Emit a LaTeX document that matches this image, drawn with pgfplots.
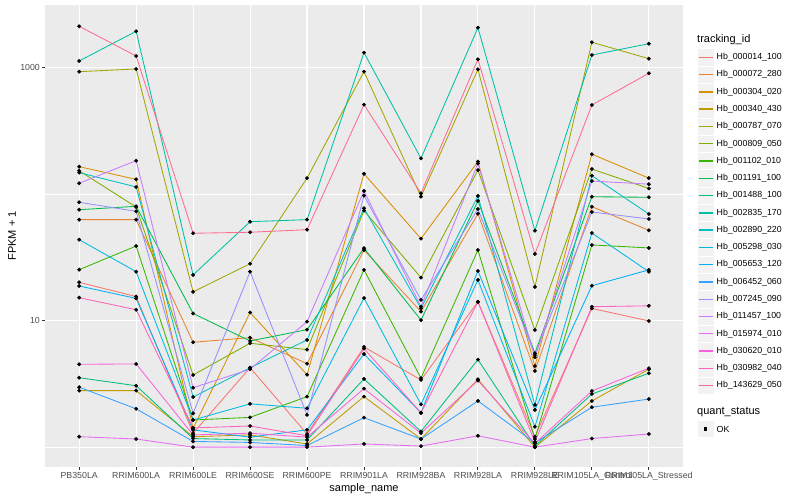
\documentclass[border=0pt]{standalone}
\usepackage{pgfplots}
\pgfplotsset{compat=1.18}
\usepackage{pgfplotstable}
\usepackage{fontspec}
\setmainfont{Liberation Sans}

\definecolor{panelbg}{HTML}{EBEBEB}
\definecolor{keybg}{HTML}{F2F2F2}
\definecolor{grey20}{HTML}{333333}
\definecolor{grey30}{HTML}{4D4D4D}
\definecolor{c1}{HTML}{F8766D}
\definecolor{c2}{HTML}{EA8331}
\definecolor{c3}{HTML}{D89000}
\definecolor{c4}{HTML}{C09B00}
\definecolor{c5}{HTML}{A3A500}
\definecolor{c6}{HTML}{7CAE00}
\definecolor{c7}{HTML}{39B600}
\definecolor{c8}{HTML}{00BB4E}
\definecolor{c9}{HTML}{00BF7D}
\definecolor{c10}{HTML}{00C1A3}
\definecolor{c11}{HTML}{00BFC4}
\definecolor{c12}{HTML}{00BAE0}
\definecolor{c13}{HTML}{00B0F6}
\definecolor{c14}{HTML}{35A2FF}
\definecolor{c15}{HTML}{9590FF}
\definecolor{c16}{HTML}{C77CFF}
\definecolor{c17}{HTML}{E76BF3}
\definecolor{c18}{HTML}{FA62DB}
\definecolor{c19}{HTML}{FF62BC}
\definecolor{c20}{HTML}{FF6C91}

% FPKM + 1 per sample (rows) and tracking id (columns s1..s20, legend order)
\pgfplotstableread{
x  s1    s2    s3    s4    s5    s6    s7    s8    s9    s10   s11   s12   s13   s14   s15   s16   s17   s18   s19   s20
0  20.1  62.9  165   2.80  930   153   25.3  75.4  3.54  1130  148   43.7  18.8  2.98  86.3  122   1.21  4.52  15.2  2124
1  15.5  62.9  131   2.80  977   79.2  38.9  80.2  3.06  1940  114   24.4  15.0  2.01  73.2  184   1.16  4.55  12.2  1237
2  1.29  6.75  1.41  1.21  16.9  3.72  1.64  11.4  1.17  23.0  2.49  1.64  1.37  1.11  1.85  2.95  1.00  1.25  1.42  49.1
3  4.25  7.34  11.6  1.25  28.2  6.63  1.72  6.91  1.14  60.6  4.25  2.20  1.20  1.09  24.4  4.13  1.00  1.29  1.47  50.0
4  1.27  4.57  3.74  1.06  134   5.90  2.51  8.49  1.14  62.9  7.04  2.03  1.37  1.03  1.80  9.82  1.00  1.20  1.23  52.4
5  6.20  36.2  145   2.51  930   74.1  25.2  37.4  3.46  1314  77.4  15.1  5.45  1.71  97.3  106   1.06  2.90  6.01  510
6  3.40  11.8  44.5  1.16  95.5  21.9  3.51  10.1  1.33  192   12.5  2.18  1.87  1.16  14.6  12.9  1.02  1.29  1.87  101.6
7  14.1  70.1  181   3.44  971   155   36.2  88.4  4.92  2072  96.8  21.0  24.7  2.32  76.4  175   1.23  3.36  14.1  1165
8  1.21  4.00  4.38  1.00  18.5  8.44  1.16  5.53  1.02  51.5  2.16  1.45  1.97  1.08  5.35  5.14  1.00  1.07  1.10  33.7
9  12.5  79.7  207   2.32  1588  158   39.7  95.5  2.63  1259  140   49.3  18.9  2.07  72.3  127   1.17  2.78  12.9  507
10 9.95  51.8  134   4.13  1178  111   37.6  94.5  3.84  1548  69.7  24.4  25.2  2.40  63.7  120   1.27  4.21  13.1  903
}\fpkm

\begin{document}
\begin{tikzpicture}[x=1bp,y=1bp]
\useasboundingbox (0,0) rectangle (800,500);
\begin{axis}[
  at={(45bp,33bp)}, anchor=south west,
  scale only axis, width=638bp, height=462bp,
  ymode=log, ymin=0.697, ymax=3131,
  xmin=-0.6, xmax=10.6,
  xtick={0,...,10},
  xticklabels={PB350LA,RRIM600LA,RRIM600LE,RRIM600SE,RRIM600PE,RRIM901LA,RRIM928BA,RRIM928LA,RRIM928LE,RRIM105LA\_Control,RRIM105LA\_Stressed},
  ytick={10,1000}, yticklabels={10,1000},
  minor ytick={1,100},
  grid=both,
  major grid style={white, line width=1.1bp},
  minor grid style={white, line width=0.55bp},
  axis background/.style={fill=panelbg},
  axis lines*=left, axis line style={draw=none},
  tick align=outside, major tick length=2.75bp, minor tick length=0pt,
  tick style={grey20, line width=1bp},
  ticklabel style={font=\fontsize{8.8bp}{10bp}\selectfont, text=grey30, inner sep=0pt},
  yticklabel style={xshift=-2.2bp},
  xticklabel style={yshift=-2.2bp},
  xlabel={sample\_name}, ylabel={FPKM + 1},
  every axis x label/.style={at={(axis description cs:0.5,-0.0476)}, anchor=center, font=\fontsize{11bp}{13bp}\selectfont},
  every axis y label/.style={at={(axis description cs:-0.0517,0.5)}, anchor=center, rotate=90, font=\fontsize{11bp}{13bp}\selectfont},
]
\pgfplotsinvokeforeach{1,...,20}{
  \addplot[color=c#1, line width=0.85bp, no marks] table[x=x, y=s#1] {\fpkm};
}
\pgfplotsinvokeforeach{1,...,20}{
  \addplot[only marks, mark=*, mark size=1.75bp, black] table[x=x, y=s#1] {\fpkm};
}
\end{axis}

% legend: tracking_id
\node[anchor=west, inner sep=0pt, font=\fontsize{11bp}{13bp}\selectfont] at (697,460) {tracking\_id};
\foreach \col/\lab [count=\i from 0] in {
  c1/Hb\_000014\_100, c2/Hb\_000072\_280, c3/Hb\_000304\_020, c4/Hb\_000340\_430,
  c5/Hb\_000787\_070, c6/Hb\_000809\_050, c7/Hb\_001102\_010, c8/Hb\_001191\_100,
  c9/Hb\_001488\_100, c10/Hb\_002835\_170, c11/Hb\_002890\_220, c12/Hb\_005298\_030,
  c13/Hb\_005653\_120, c14/Hb\_006452\_060, c15/Hb\_007245\_090, c16/Hb\_011457\_100,
  c17/Hb\_015974\_010, c18/Hb\_030620\_010, c19/Hb\_030982\_040, c20/Hb\_143629\_050} {
  \pgfmathsetmacro{\yy}{442.7-17.28*\i}
  \fill[keybg, draw=white, line width=0.5bp] (697,\yy-8.64) rectangle (714.3,\yy+8.64);
  \draw[\col, line width=1.4bp] (698.5,\yy) -- (712.8,\yy);
  \node[anchor=west, inner sep=0pt, font=\fontsize{8.8bp}{10bp}\selectfont] at (716.5,\yy) {\lab};
}

% legend: quant_status
\node[anchor=west, inner sep=0pt, font=\fontsize{11bp}{13bp}\selectfont] at (697,88) {quant\_status};
\fill[keybg, draw=white, line width=0.5bp] (697,62.4) rectangle (714.3,79.6);
\fill[black] (703.9,69.4) rectangle (707.3,72.8);
\node[anchor=west, inner sep=0pt, font=\fontsize{8.8bp}{10bp}\selectfont] at (716.5,71) {OK};
\end{tikzpicture}
\end{document}
